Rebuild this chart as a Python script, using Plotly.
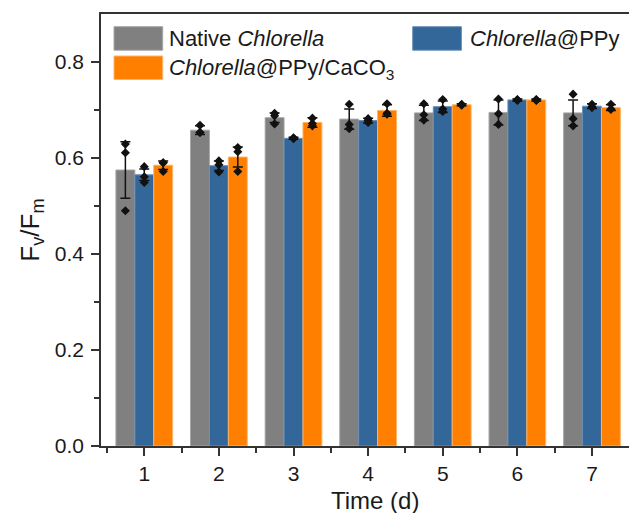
import plotly.graph_objects as go

days = [1, 2, 3, 4, 5, 6, 7]
tick_labels = ["1", "2", "3", "4", "5", "6", "7"]

series_names = ["Native <i>Chlorella</i>", "<i>Chlorella</i>@PPy", "<i>Chlorella</i>@PPy/CaCO<sub>3</sub>"]
colors = ["#808080", "#336699", "#ff8000"]
edge_colors = ["#a6a6a6", "#6c8fb5", "#ffb366"]

native_mean = [0.575, 0.658, 0.684, 0.681, 0.694, 0.695, 0.694]
ppy_mean = [0.565, 0.584, 0.641, 0.678, 0.707, 0.721, 0.708]
caco3_mean = [0.585, 0.602, 0.674, 0.699, 0.711, 0.721, 0.705]

native_err = [0.059, 0.009, 0.010, 0.021, 0.016, 0.026, 0.027]
ppy_err = [0.012, 0.010, 0.002, 0.005, 0.012, 0.002, 0.005]
caco3_err = [0.009, 0.021, 0.010, 0.012, 0.002, 0.002, 0.006]

native_pts = [[0.629, 0.611, 0.490], [0.668, 0.653, 0.653], [0.693, 0.688, 0.671],
              [0.712, 0.670, 0.661], [0.713, 0.690, 0.679], [0.723, 0.692, 0.670],
              [0.733, 0.682, 0.667]]
ppy_pts = [[0.582, 0.561, 0.549], [0.594, 0.586, 0.571], [0.641, 0.640, 0.642],
           [0.682, 0.678, 0.674], [0.722, 0.702, 0.697], [0.722, 0.721, 0.720],
           [0.712, 0.707, 0.705]]
caco3_pts = [[0.590, 0.590, 0.572], [0.622, 0.613, 0.572], [0.683, 0.672, 0.667],
             [0.713, 0.693, 0.691], [0.712, 0.711, 0.710], [0.722, 0.721, 0.720],
             [0.712, 0.702, 0.701]]

x_title = "Time (d)"
y_title = "F<sub>v</sub>/F<sub>m</sub>"

means = [native_mean, ppy_mean, caco3_mean]
errs = [native_err, ppy_err, caco3_err]
pts = [native_pts, ppy_pts, caco3_pts]

FONT = "Liberation Sans, Arial, sans-serif"
AX = "#333333"
TXT = "#1a1a1a"

bargap = 0.24
n = 3
bw = (1 - bargap) / n

fig = go.Figure()
for i in range(n):
    fig.add_trace(go.Bar(
        x=days, y=means[i], name=series_names[i],
        marker=dict(color=colors[i], line=dict(color=edge_colors[i], width=1)),
        error_y=dict(type="data", array=errs[i], visible=True, color="#111111",
                     thickness=1.5, width=5),
        showlegend=False,
    ))
for i in range(n):
    off = (i - (n - 1) / 2) * bw
    xs, ys = [], []
    for d, vals in zip(days, pts[i]):
        for v in vals:
            xs.append(d + off)
            ys.append(v)
    fig.add_trace(go.Scatter(
        x=xs, y=ys, mode="markers",
        marker=dict(symbol="diamond", size=7, color="#111111"),
        showlegend=False, hoverinfo="skip",
    ))

# legend drawn manually (large swatches)
L = 101.0
R = 629.0
T = 14.0
B = 446.0
W = R - L
H = B - T
def px(xp):
    return (xp - L) / W
def py(yp):
    return (B - yp) / H

legend_items = [
    (0, 114, 26.7, 167, 38.5),
    (2, 114, 56.0, 167, 68.5),
    (1, 412.7, 26.7, 468, 38.5),
]
for idx, sx, sy, tx, ty in legend_items:
    fig.add_shape(type="rect", xref="paper", yref="paper",
                  x0=px(sx), x1=px(sx + 48.7), y0=py(sy + 23.5), y1=py(sy),
                  fillcolor=colors[idx], line=dict(color=edge_colors[idx], width=1))
    fig.add_annotation(xref="paper", yref="paper", x=px(tx), y=py(ty),
                       xanchor="left", yanchor="middle", showarrow=False,
                       text=series_names[idx],
                       font=dict(family=FONT, size=22, color=TXT))

# x axis title placed to match the reference position
fig.add_annotation(xref="paper", yref="paper", x=px(375), y=py(500),
                   xanchor="center", yanchor="middle", showarrow=False,
                   text=x_title, font=dict(family=FONT, size=24, color=TXT))

fig.update_layout(
    width=629, height=513,
    margin=dict(l=101, r=0, t=14, b=67, autoexpand=False),
    paper_bgcolor="white", plot_bgcolor="white",
    barmode="group", bargap=bargap, bargroupgap=0,
    font=dict(family=FONT, color=TXT),
    showlegend=False,
)
fig.update_xaxes(
    range=[0.42, 7.496], tickmode="array", tickvals=days, ticktext=tick_labels,
    showgrid=False, zeroline=False,
    showline=True, linecolor=AX, linewidth=1.5, mirror=True,
    ticks="outside", ticklen=8, tickwidth=1.5, tickcolor=AX,
    tickfont=dict(family=FONT, size=21, color=TXT),
    minor=dict(tickmode="array", tickvals=[d - 0.5 for d in days] + [7.5],
               ticks="outside", ticklen=5, tickwidth=1.5, tickcolor=AX),
)
fig.update_yaxes(
    range=[0, 0.9], tickvals=[0, 0.2, 0.4, 0.6, 0.8], tickformat=".1f",
    showgrid=False, zeroline=False,
    showline=True, linecolor=AX, linewidth=1.5,
    ticks="outside", ticklen=8, tickwidth=1.5, tickcolor=AX,
    ticklabelstandoff=3,
    tickfont=dict(family=FONT, size=21, color=TXT),
    minor=dict(tickvals=[0.1, 0.3, 0.5, 0.7], ticks="outside", ticklen=5,
               tickwidth=1.5, tickcolor=AX),
    title=dict(text=y_title, font=dict(family=FONT, size=26, color=TXT), standoff=8),
)

fig.write_html("out.html", config={"displayModeBar": False},
               post_script="document.body.style.margin='0';document.body.style.overflow='hidden';")
